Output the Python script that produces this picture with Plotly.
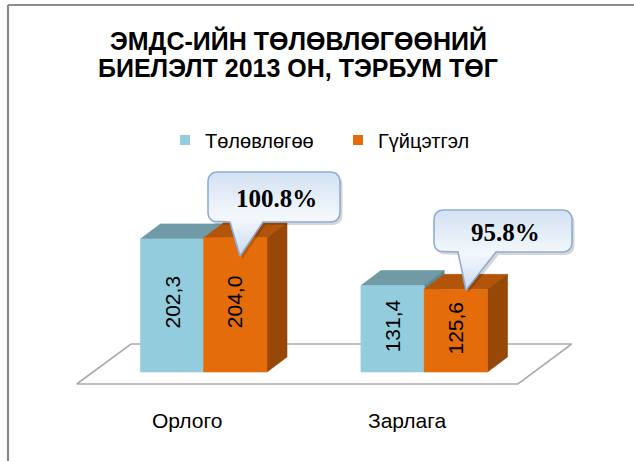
import math
import plotly.graph_objects as go

# ---------------- data ----------------
categories = ["Орлого", "Зарлага"]
series_names = ["Төлөвлөгөө", "Гүйцэтгэл"]
plan_values = [202.3, 131.4]
actual_values = [204.0, 125.6]
plan_labels = ["202,3", "131,4"]
actual_labels = ["204,0", "125,6"]
callout_texts = ["100.8%", "95.8%"]
title_lines = ["ЭМДС-ИЙН ТӨЛӨВЛӨГӨӨНИЙ", "БИЕЛЭЛТ 2013 ОН, ТЭРБУМ ТӨГ"]

# ---------------- styles ----------------
W, H = 634, 461
FONT = "Liberation Sans, Arial, sans-serif"
SERIF = "Liberation Serif, Times New Roman, serif"
BLUE = dict(front="#93CDDD", top="#6F9AA6", side="#5E8893")
ORANGE = dict(front="#E46C0A", top="#B2550A", side="#974806")

# axis geometry (pixel mapping of the plot area)
X0_PX, X_STEP = 203.7, 220.5     # pixel of category 0, pixels per category
Y0_PX, Y_SCALE = 372.0, 0.658    # pixel of value 0, pixels per value unit


def xd(px):
    return (px - X0_PX) / X_STEP


def yd(py):
    return (Y0_PX - py) / Y_SCALE


BAR_W = 63.3 / X_STEP
DX = 20 / X_STEP
DY = 15 / Y_SCALE

fig = go.Figure()


def poly(xs, ys, color, line_color=None, lw=0.6, **kw):
    fig.add_trace(go.Scatter(
        x=list(xs) + [xs[0]], y=list(ys) + [ys[0]], mode="lines",
        fill="toself", fillcolor=color,
        line=dict(color=line_color or color, width=lw),
        hoverinfo="skip", showlegend=False, **kw))


# floor
fl_back_y, fl_front_y = yd(344), yd(384)
poly([xd(76.7), xd(518), xd(571.7), xd(131)],
     [fl_front_y, fl_front_y, fl_back_y, fl_back_y],
     "white", line_color="#ABABAB", lw=1.6)


def bar3d(xl, v, col):
    w = BAR_W
    poly([xl, xl + w, xl + w + DX, xl + DX], [v, v, v + DY, v + DY], col["top"])
    poly([xl + w, xl + w + DX, xl + w + DX, xl + w], [0, DY, v + DY, v], col["side"])
    poly([xl, xl + w, xl + w, xl], [0, 0, v, v], col["front"])


for i, cat in enumerate(categories):
    bar3d(i - BAR_W, plan_values[i], BLUE)
    bar3d(i, actual_values[i], ORANGE)

# value labels (rotated, centred in front faces)
for i in range(len(categories)):
    for xc, v, lab in [(i - BAR_W / 2, plan_values[i], plan_labels[i]),
                       (i + BAR_W / 2, actual_values[i], actual_labels[i])]:
        fig.add_annotation(x=xc, y=v / 2, text=lab, textangle=-90, showarrow=False,
                           yshift=3,
                           font=dict(family=FONT, size=21, color="black"),
                           xanchor="center", yanchor="middle")

# category labels
for i, cat in enumerate(categories):
    fig.add_annotation(x=i, y=yd(420), text=cat, showarrow=False, xshift=-17,
                       font=dict(family=FONT, size=21, color="black"),
                       xanchor="center", yanchor="middle")

# callouts (box in px: left, top, right, bottom; tail base x0,x1; tip)
callouts = [
    dict(box=(208, 172, 340, 222), base=(230, 263), tip=(240, 256)),
    dict(box=(434, 210, 572, 252), base=(458, 496), tip=(466, 290)),
]


def callout_path(box, base, tip, r=9):
    l, t, rr, b = box
    pts = []

    def arc(cx, cy, a0, a1):
        for k in range(9):
            a = math.radians(a0 + (a1 - a0) * k / 8)
            pts.append((cx + r * math.cos(a), cy + r * math.sin(a)))

    arc(l + r, t + r, 180, 270)
    arc(rr - r, t + r, 270, 360)
    arc(rr - r, b - r, 0, 90)
    pts.append((base[1], b))
    pts.append(tip)
    pts.append((base[0], b))
    arc(l + r, b - r, 90, 180)
    return pts


for c, txt in zip(callouts, callout_texts):
    pts = callout_path(c["box"], c["base"], c["tip"])
    # shadow
    poly([xd(p[0] + 2.5) for p in pts], [yd(p[1] + 3) for p in pts],
         "rgba(0,0,0,0.16)", line_color="rgba(0,0,0,0)", lw=0)
    fig.add_trace(go.Scatter(
        x=[xd(p[0]) for p in pts] + [xd(pts[0][0])],
        y=[yd(p[1]) for p in pts] + [yd(pts[0][1])],
        mode="lines", fill="toself",
        fillgradient=dict(type="vertical",
                          colorscale=[[0, "#C9DAEE"], [0.45, "#F4F8FC"], [1, "#D3E1F2"]]),
        line=dict(color="#8EADD6", width=1.6),
        hoverinfo="skip", showlegend=False))
    l, t, rr, b = c["box"]
    fig.add_annotation(x=xd((l + rr) / 2 + 2), y=yd((t + b) / 2 + 1), text="<b>" + txt + "</b>",
                       showarrow=False, font=dict(family=SERIF, size=25, color="black"),
                       xanchor="center", yanchor="middle")

# title (two lines, tight line spacing as in the original)
for line, ypx in zip(title_lines, [41, 68]):
    fig.add_annotation(xref="paper", yref="paper", x=298 / W, y=1 - ypx / H,
                       text="<b>" + line + "</b>", showarrow=False,
                       xanchor="center", yanchor="middle",
                       font=dict(family=FONT, size=25, color="black"))

# legend entries
for name, col in zip(series_names, [BLUE["front"], ORANGE["front"]]):
    fig.add_trace(go.Scatter(x=[None], y=[None], mode="markers", name=name,
                             marker=dict(symbol="square", size=10, color=col)))

# frame
fig.add_shape(type="line", xref="paper", yref="paper", x0=8 / W, x1=8 / W, y0=0, y1=1 - 5 / H,
              line=dict(color="#8C8C8C", width=2.2))
fig.add_shape(type="line", xref="paper", yref="paper", x0=8 / W, x1=1, y0=1 - 5 / H, y1=1 - 5 / H,
              line=dict(color="#8C8C8C", width=2.2))

fig.update_layout(
    width=W, height=H, autosize=False,
    margin=dict(l=0, r=0, t=0, b=0),
    paper_bgcolor="white", plot_bgcolor="white",
    xaxis=dict(range=[xd(0), xd(W)], visible=False, fixedrange=True),
    yaxis=dict(range=[yd(H), yd(0)], visible=False, fixedrange=True),
    legend=dict(orientation="h", x=165 / W, xanchor="left", y=1 - 140 / H, yanchor="middle",
                font=dict(family=FONT, size=20, color="black"), bgcolor="rgba(0,0,0,0)",
                entrywidth=128, entrywidthmode="pixels", itemclick=False),
    showlegend=True,
)

fig.write_html("out.html", config={"displayModeBar": False},
               post_script="document.body.style.margin='0';document.body.style.overflow='hidden';")
